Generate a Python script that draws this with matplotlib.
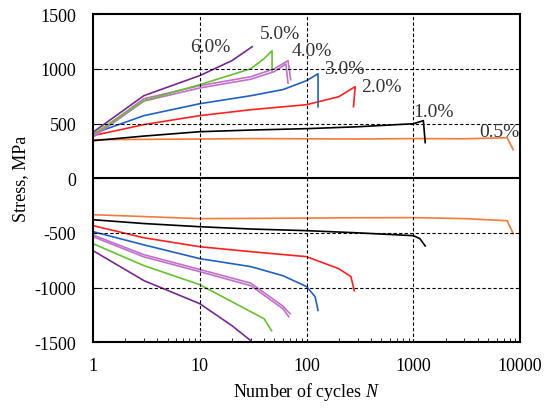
import matplotlib
matplotlib.use("Agg")
import matplotlib.pyplot as plt
from matplotlib.ticker import LogLocator, NullFormatter

plt.rcParams['font.family'] = ['Liberation Serif', 'DejaVu Serif']
plt.rcParams['mathtext.fontset'] = 'custom'
plt.rcParams['mathtext.it'] = 'Liberation Serif:italic'
plt.rcParams['mathtext.rm'] = 'Liberation Serif'
plt.rcParams['axes.unicode_minus'] = False

# amplitude de deformation -> courbes (N, contrainte)
labels = ["0.5%", "1.0%", "2.0%", "3.0%", "4.0%", "5.0%", "6.0%"]
colors = ["#F57A3C", "#000000", "#FF2020", "#2060C0", "#C070C8", "#66C030", "#7A2890"]

# traction
n_t05 = [1, 10, 30, 100, 300, 1000, 3000, 7550, 8600]
s_t05 = [352, 358, 362, 360, 358, 362, 360, 370, 260]
n_t10 = [1, 3, 10, 30, 100, 300, 1000, 1240, 1290]
s_t10 = [343, 385, 425, 440, 453, 470, 498, 526, 325]
n_t20 = [1, 3, 10, 30, 100, 200, 285, 275]
s_t20 = [389, 490, 572, 626, 672, 745, 837, 654]
n_t30 = [1, 3, 10, 30, 60, 100, 128, 128]
s_t30 = [407, 572, 681, 754, 810, 892, 955, 653]
n_t40a = [1, 3, 10, 30, 50, 67, 71]
s_t40a = [389, 727, 846, 928, 1001, 1075, 901]
n_t40b = [1, 3, 10, 30, 50, 64, 67]
s_t40b = [375, 705, 825, 905, 975, 1045, 870]
n_t50 = [1, 3, 10, 30, 40, 47.5, 47.5]
s_t50 = [400, 709, 855, 1001, 1093, 1166, 983]
n_t60 = [1, 3, 10, 20, 31]
s_t60 = [420, 755, 938, 1075, 1203]

# compression
n_c05 = [1, 10, 30, 100, 300, 1000, 3000, 7550, 8600]
s_c05 = [-334, -370, -368, -365, -362, -361, -370, -389, -507]
n_c10 = [1, 3, 10, 30, 100, 300, 1000, 1150, 1290]
s_c10 = [-380, -415, -444, -465, -480, -500, -526, -553, -620]
n_c20 = [1, 3, 10, 30, 100, 200, 260, 280]
s_c20 = [-434, -545, -627, -672, -718, -828, -900, -1030]
n_c30 = [1, 3, 10, 30, 60, 100, 120, 128]
s_c30 = [-489, -610, -736, -809, -892, -992, -1083, -1210]
n_c40a = [1, 3, 10, 30, 60, 68]
s_c40a = [-535, -720, -855, -983, -1194, -1267]
n_c40b = [1, 3, 10, 30, 60, 70]
s_c40b = [-520, -700, -835, -960, -1170, -1240]
n_c50 = [1, 3, 10, 30, 40, 47]
s_c50 = [-599, -800, -974, -1221, -1285, -1395]
n_c60 = [1, 3, 10, 20, 30]
s_c60 = [-663, -937, -1148, -1349, -1486]

# position des etiquettes
lab_n = [6330, 1530, 500, 225, 112, 56, 12.5]
lab_s = [425, 608, 837, 1001, 1166, 1321, 1203]

fig = plt.figure(figsize=(5.47, 4.10), dpi=100)
ax = fig.add_axes([0.170, 0.163, 0.781, 0.800])

tension = [(n_t05, s_t05, 0), (n_t10, s_t10, 1), (n_t20, s_t20, 2), (n_t30, s_t30, 3),
           (n_t40a, s_t40a, 4), (n_t40b, s_t40b, 4), (n_t50, s_t50, 5), (n_t60, s_t60, 6)]
compression = [(n_c05, s_c05, 0), (n_c10, s_c10, 1), (n_c20, s_c20, 2), (n_c30, s_c30, 3),
               (n_c40a, s_c40a, 4), (n_c40b, s_c40b, 4), (n_c50, s_c50, 5), (n_c60, s_c60, 6)]
for n, s, i in tension + compression:
    ax.plot(n, s, color=colors[i], lw=1.2)

for i in range(len(labels)):
    ax.text(lab_n[i], lab_s[i], labels[i], fontsize=14, ha="center", va="center", color="#333333")

ax.set_xscale("log")
ax.set_xlim(1, 10000)
ax.set_ylim(-1500, 1500)
ax.set_yticks([-1500, -1000, -500, 0, 500, 1000, 1500])
ax.set_xticks([1, 10, 100, 1000, 10000])
ax.set_xticklabels(["1", "10", "100", "1000", "10000"])
ax.xaxis.set_minor_locator(LogLocator(base=10, subs=range(2, 10)))
ax.xaxis.set_minor_formatter(NullFormatter())

for v in [10, 100, 1000]:
    ax.axvline(v, color="black", ls=(0, (3, 2)), lw=0.8)
for v in [-1000, -500, 500, 1000]:
    ax.axhline(v, color="black", ls=(0, (3, 2)), lw=0.8)
ax.axhline(0, color="black", lw=1.5)

ax.tick_params(axis="both", which="major", direction="in", length=4, labelsize=13)
ax.tick_params(axis="y", which="major", pad=12)
ax.tick_params(axis="x", which="major", pad=11, length=0)
ax.tick_params(axis="x", which="minor", direction="in", length=3)
for sp in ax.spines.values():
    sp.set_linewidth(1.5)

ax.set_ylabel("Stress, MPa", fontsize=13, labelpad=4)
ax.set_xlabel("Number of cycles $\\mathit{N}$", fontsize=13, labelpad=4)

fig.savefig("out.png", dpi=100)
